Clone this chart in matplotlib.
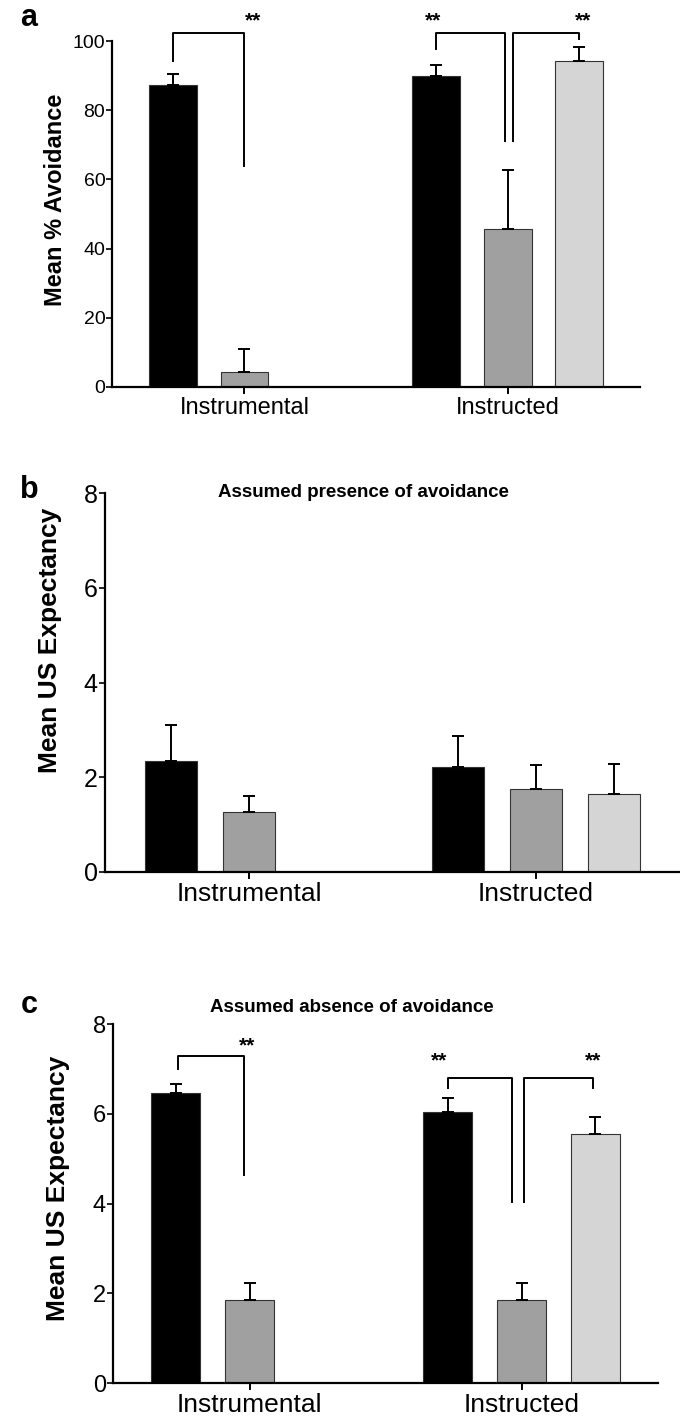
import matplotlib
matplotlib.use("Agg")
import matplotlib.pyplot as plt
import numpy as np

NARROW = ['Liberation Sans Narrow', 'Liberation Sans', 'DejaVu Sans']
BOLD = ['Liberation Sans', 'Arial', 'DejaVu Sans']

groups = ["Instrumental", "Instructed"]
bar_colors = ["#000000", "#a0a0a0", "#d5d5d5"]

# panel a: mean % avoidance
a_instrumental = [87.4, 4.3]
a_instrumental_err = [3.2, 6.8]
a_instructed = [89.9, 45.8, 94.2]
a_instructed_err = [3.3, 17.0, 4.1]

# panel b: assumed presence of avoidance
b_instrumental = [2.35, 1.27]
b_instrumental_err = [0.75, 0.33]
b_instructed = [2.21, 1.75, 1.64]
b_instructed_err = [0.67, 0.50, 0.64]

# panel c: assumed absence of avoidance
c_instrumental = [6.46, 1.85]
c_instrumental_err = [0.21, 0.38]
c_instructed = [6.03, 1.86, 5.54]
c_instructed_err = [0.32, 0.36, 0.38]

GAP = 3.68   # start of the second group in slot units
W = 0.67


def draw_panel(ax, inst, inst_err, instr, instr_err, ymax, yticks,
               tick_fs, xlab_fs, brackets=(), stars=()):
    x1 = np.arange(len(inst))
    x2 = GAP + np.arange(len(instr))
    for xs, vals, errs in ((x1, inst, inst_err), (x2, instr, instr_err)):
        ax.bar(xs, vals, width=W, color=bar_colors[:len(vals)],
               edgecolor="#333333", linewidth=0.8, zorder=2)
        ax.errorbar(xs, vals, yerr=[np.zeros(len(errs)), errs], fmt="none",
                    ecolor="k", elinewidth=1.4, capsize=4.5, capthick=1.4,
                    zorder=3)
    ax.set_xlim(-0.85, GAP + 2 + 0.85)
    ax.set_ylim(0, ymax)
    ax.set_yticks(yticks)
    ax.set_xticks([1, GAP + 1])
    ax.set_xticklabels(groups, fontsize=xlab_fs, family=NARROW)
    for lab in ax.get_yticklabels():
        lab.set_family(NARROW)
        lab.set_fontsize(tick_fs)
    for s in ("top", "right"):
        ax.spines[s].set_visible(False)
    for s in ("left", "bottom"):
        ax.spines[s].set_linewidth(1.6)
    ax.tick_params(axis="y", length=4, width=1.2, pad=1)
    ax.tick_params(axis="x", length=5, width=1.4, pad=2)
    for (xa, xb, top, ya, yb) in brackets:
        ax.plot([xa, xa, xb, xb], [ya, top, top, yb], color="k", lw=1.4,
                clip_on=False, zorder=4)
    for (xs, ys) in stars:
        ax.text(xs, ys, "**", ha="center", va="center", fontsize=15,
                fontweight="bold", family=BOLD, clip_on=False)


fig = plt.figure(figsize=(6.8, 14.16), dpi=100)
fig.patch.set_facecolor("white")

ax_a = fig.add_axes([0.165, 0.7267, 0.776, 0.2443])
draw_panel(ax_a, a_instrumental, a_instrumental_err, a_instructed,
           a_instructed_err, 100, [0, 20, 40, 60, 80, 100], 14, 17,
           brackets=[(0, 1, 102.4, 94.2, 63.8),
                     (GAP, GAP + 0.96, 102.4, 97.8, 71),
                     (GAP + 1.08, GAP + 2, 102.4, 71, 100.7)],
           stars=[(1.12, 105.8), (GAP - 0.04, 105.8), (GAP + 2.05, 105.8)])
ax_a.set_ylabel("Mean % Avoidance", fontsize=17, fontweight="bold",
                family=BOLD)
ax_a.yaxis.set_label_coords(-0.086, 0.54)

ax_b = fig.add_axes([0.154, 0.3842, 0.846, 0.2676])
draw_panel(ax_b, b_instrumental, b_instrumental_err, b_instructed,
           b_instructed_err, 8, [0, 2, 4, 6, 8], 18, 19)
ax_b.set_ylabel("Mean US Expectancy", fontsize=19, fontweight="bold",
                family=BOLD)
ax_b.yaxis.set_label_coords(-0.075, 0.61)
fig.text(0.534, 0.6525, "Assumed presence of avoidance", ha="center",
         va="center", fontsize=13.5, fontweight="bold", family=NARROW)

ax_c = fig.add_axes([0.166, 0.0233, 0.802, 0.2535])
draw_panel(ax_c, c_instrumental, c_instrumental_err, c_instructed,
           c_instructed_err, 8, [0, 2, 4, 6, 8], 17, 19,
           brackets=[(0.03, 0.93, 7.28, 7.0, 4.64),
                     (GAP, GAP + 0.865, 6.79, 6.57, 4.04),
                     (GAP + 1.04, GAP + 1.97, 6.79, 4.04, 6.57)],
           stars=[(0.97, 7.52), (GAP - 0.12, 7.19), (GAP + 1.97, 7.19)])
ax_c.set_ylabel("Mean US Expectancy", fontsize=19, fontweight="bold",
                family=BOLD)
ax_c.yaxis.set_label_coords(-0.079, 0.543)
fig.text(0.518, 0.2888, "Assumed absence of avoidance", ha="center",
         va="center", fontsize=13.5, fontweight="bold", family=NARROW)

for lab, y in (("a", 0.987), ("b", 0.654), ("c", 0.290)):
    fig.text(0.03, y, lab, ha="left", va="center", fontsize=22,
             fontweight="bold", family=BOLD)

fig.savefig("out.png", dpi=100)
